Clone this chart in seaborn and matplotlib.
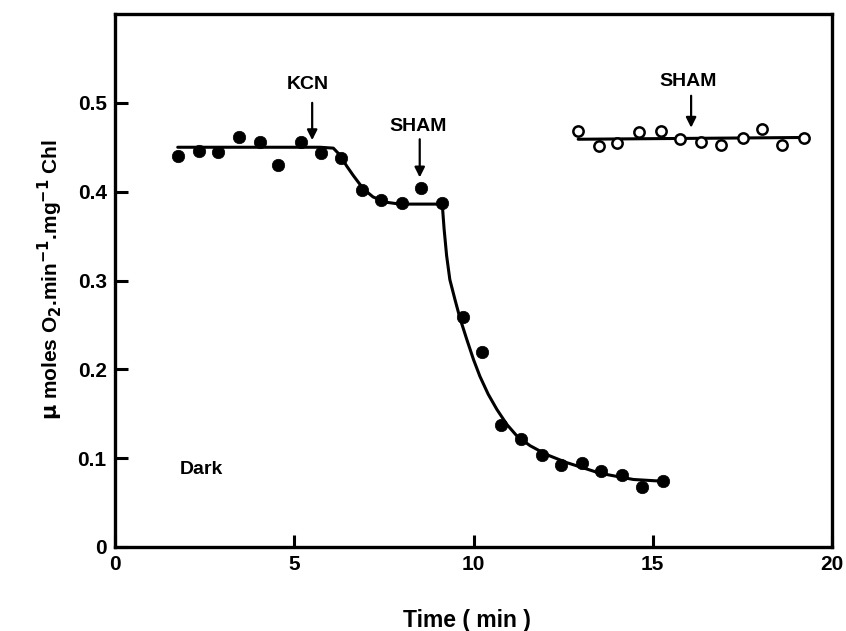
import matplotlib
matplotlib.use("Agg")
import matplotlib.pyplot as plt
import seaborn as sns
import pandas as pd

# Filled circles (control -> KCN -> SHAM)
filled_time = [1.75, 2.34, 2.88, 3.47, 4.04, 4.56, 5.19, 5.74, 6.30, 6.88, 7.41, 8.00,
               8.54, 9.12, 9.70, 10.24, 10.77, 11.32, 11.90, 12.45, 13.03, 13.56,
               14.14, 14.71, 15.29]
filled_rate = [0.440, 0.446, 0.445, 0.461, 0.456, 0.430, 0.456, 0.444, 0.438, 0.402,
               0.391, 0.387, 0.404, 0.387, 0.259, 0.219, 0.137, 0.122, 0.104, 0.092,
               0.094, 0.086, 0.081, 0.067, 0.074]

# Open circles (SHAM alone)
open_time = [12.92, 13.51, 14.01, 14.63, 15.22, 15.76, 16.35, 16.90, 17.51, 18.06,
             18.61, 19.23]
open_rate = [0.468, 0.451, 0.455, 0.467, 0.468, 0.459, 0.456, 0.453, 0.460, 0.470,
             0.452, 0.460]

# Fitted curves
curve1_time = [1.75, 5.72, 6.09, 6.28, 6.46, 6.65, 6.93, 7.20, 7.58, 7.95, 9.10,
               9.13, 9.18, 9.25, 9.34, 9.48, 9.62, 9.81, 10.00, 10.18, 10.41, 10.65,
               10.93, 11.21, 11.58, 12.04, 12.60, 13.53, 14.46, 15.29]
curve1_rate = [0.450, 0.450, 0.449, 0.441, 0.429, 0.418, 0.403, 0.394, 0.388, 0.386,
               0.386, 0.385, 0.358, 0.328, 0.301, 0.279, 0.258, 0.234, 0.211, 0.192,
               0.172, 0.155, 0.138, 0.125, 0.114, 0.104, 0.095, 0.083, 0.076, 0.074]
curve2_time = [12.92, 19.23]
curve2_rate = [0.459, 0.461]

x_ticks = [0, 5, 10, 15, 20]
x_tick_labels = ["0", "5", "10", "15", "20"]
y_ticks = [0, 0.1, 0.2, 0.3, 0.4, 0.5]
y_tick_labels = ["0", "0.1", "0.2", "0.3", "0.4", "0.5"]

# annotations: (text, label x, label y, arrow x, arrow top, arrow bottom)
annotations = [("KCN", 5.38, 0.521, 5.50, 0.500, 0.458),
               ("SHAM", 8.45, 0.473, 8.50, 0.459, 0.416),
               ("SHAM", 15.98, 0.524, 16.07, 0.508, 0.472)]

sns.set_theme(style="ticks")
plt.rcParams["font.family"] = ["Liberation Sans", "DejaVu Sans"]
plt.rcParams["font.weight"] = "bold"
plt.rcParams["text.color"] = "black"
plt.rcParams["axes.labelcolor"] = "black"
plt.rcParams["mathtext.default"] = "bf"

fig = plt.figure(figsize=(8.46, 6.31), dpi=100)
ax = fig.add_axes([115 / 846, (631 - 547) / 631, (832 - 115) / 846, (547 - 14) / 631])

df_filled = pd.DataFrame({"t": filled_time, "r": filled_rate})
df_open = pd.DataFrame({"t": open_time, "r": open_rate})
df_c1 = pd.DataFrame({"t": curve1_time, "r": curve1_rate})
df_c2 = pd.DataFrame({"t": curve2_time, "r": curve2_rate})

sns.lineplot(data=df_c1, x="t", y="r", ax=ax, color="black", linewidth=2.2, sort=False)
sns.lineplot(data=df_c2, x="t", y="r", ax=ax, color="black", linewidth=2.2, sort=False)
sns.scatterplot(data=df_filled, x="t", y="r", ax=ax, color="black", s=80,
                edgecolor="black", linewidth=0.5, zorder=3)
sns.scatterplot(data=df_open, x="t", y="r", ax=ax, facecolor="white", s=55,
                edgecolor="black", linewidth=1.8, zorder=3)

for text, lx, ly, axx, a_top, a_bot in annotations:
    ax.text(lx, ly, text, ha="center", va="center", fontsize=14, fontweight="bold",
            color="black")
    ax.annotate("", xy=(axx, a_bot), xytext=(axx, a_top),
                arrowprops=dict(arrowstyle="-|>", color="black", lw=1.6,
                                mutation_scale=15, shrinkA=0, shrinkB=0))

ax.text(1.8, 0.087, "Dark", ha="left", va="center", fontsize=14, fontweight="bold",
        color="black")

ax.set_xlim(0, 20)
ax.set_ylim(0, 0.6)
ax.set_xticks(x_ticks)
ax.set_xticklabels(x_tick_labels)
ax.set_yticks(y_ticks)
ax.set_yticklabels(y_tick_labels)
ax.tick_params(direction="in", length=9, width=2.2, labelsize=15, pad=6,
               colors="black", labelcolor="black")
for lab in ax.get_xticklabels() + ax.get_yticklabels():
    lab.set_fontweight("bold")

for side in ["left", "right", "top", "bottom"]:
    ax.spines[side].set_visible(True)
    ax.spines[side].set_linewidth(2.4)
    ax.spines[side].set_color("black")

ax.set_xlabel("")
ax.set_ylabel("")
fig.text(467 / 846, 1 - 620 / 631, "Time ( min )", ha="center", va="center",
         fontsize=16.5, fontweight="bold", color="black")
fig.text(50 / 846, 1 - 280 / 631,
         r"$\mu$ moles O$_2$.min$^{-1}$.mg$^{-1}$ Chl", ha="center", va="center",
         rotation=90, fontsize=15, fontweight="bold", color="black")

fig.savefig("out.png", dpi=100)
